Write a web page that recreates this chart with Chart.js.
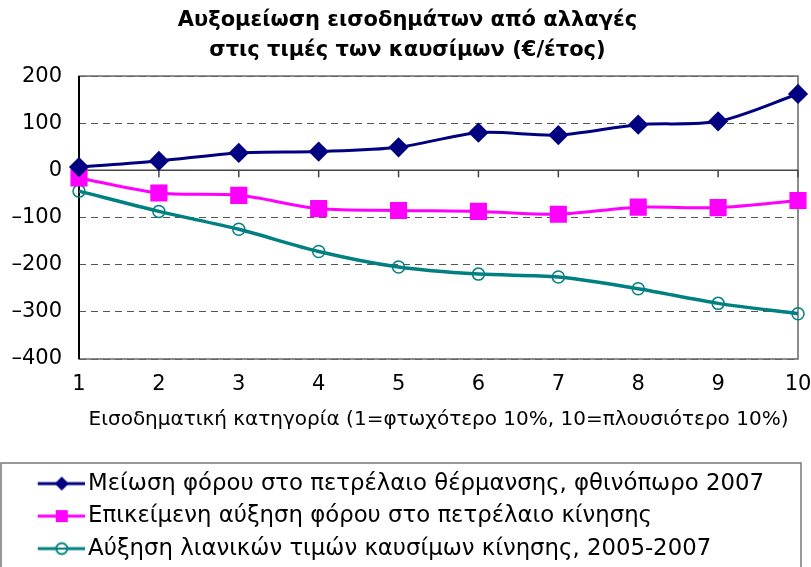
<!DOCTYPE html>
<html>
<head>
<meta charset="utf-8">
<title>Αυξομείωση εισοδημάτων</title>
<script src="https://cdn.jsdelivr.net/npm/chart.js@4.4.1/dist/chart.umd.min.js"></script>
<style>
  body{margin:0;background:#fff;}
  canvas{display:block;}
</style>
</head>
<body>
<canvas id="myChart" width="811" height="567"></canvas>
<script>
// data
var categories=['1','2','3','4','5','6','7','8','9','10'];
var heatingTax=[7,20,37,40,49,80,75,97,104,162];
var dieselTax=[-16,-48,-53,-81,-85,-87,-93,-78,-79,-64];
var retailPrices=[-44,-87,-125,-172,-205,-220,-226,-251,-282,-304];
var yTicks=[200,100,0,-100,-200,-300,-400];

var seriesNames=[
  'Μείωση φόρου στο πετρέλαιο θέρμανσης, φθινόπωρο 2007',
  'Επικείμενη αύξηση φόρου στο πετρέλαιο κίνησης',
  'Αύξηση λιανικών τιμών καυσίμων κίνησης, 2005-2007'
];

var sans="'DejaVu Sans',sans-serif";

// little line + marker pictures for the legend
function legendIcon(color,style){
  var c=document.createElement('canvas');
  c.width=76; c.height=20;
  var g=c.getContext('2d');
  g.strokeStyle=color; g.lineWidth=3;
  g.beginPath(); g.moveTo(29,10); g.lineTo(76,10); g.stroke();
  var mx=53, my=10;
  g.fillStyle=color;
  if(style==='diamond'){
    g.beginPath(); g.moveTo(mx,my-7); g.lineTo(mx+7,my); g.lineTo(mx,my+7); g.lineTo(mx-7,my); g.closePath(); g.fill();
  } else if(style==='square'){
    g.fillRect(mx-6,my-6,12,12);
  } else {
    g.fillStyle='#fff'; g.lineWidth=2;
    g.beginPath(); g.arc(mx,my,5.5,0,Math.PI*2); g.fill(); g.stroke();
    g.beginPath(); g.moveTo(mx-5,my); g.lineTo(mx+5,my); g.stroke();
  }
  return c;
}
var icons=[legendIcon('#000080','diamond'),legendIcon('#FF00FF','square'),legendIcon('#008080','circle')];

var framePlugin={
  id:'frame',
  beforeDatasetsDraw(chart){
    var ctx=chart.ctx, a=chart.chartArea, x=chart.scales.x, y=chart.scales.y;
    ctx.save();
    ctx.strokeStyle='#666'; ctx.lineWidth=1.5;
    ctx.strokeRect(a.left,a.top,a.right-a.left,a.bottom-a.top);
    ctx.strokeStyle='#000'; ctx.lineWidth=2;
    ctx.beginPath(); ctx.moveTo(a.left,a.top); ctx.lineTo(a.left,a.bottom); ctx.stroke();
    var y0=y.getPixelForValue(0);
    ctx.strokeStyle='#444'; ctx.lineWidth=1.5;
    ctx.beginPath(); ctx.moveTo(a.left,y0); ctx.lineTo(a.right,y0); ctx.stroke();
    categories.forEach((c,i)=>{
      var px=x.getPixelForValue(i);
      ctx.beginPath(); ctx.moveTo(px,y0); ctx.lineTo(px,y0+7); ctx.stroke();
    });
    ctx.restore();
  },
  afterDraw(chart){
    var l=chart.legend, ctx=chart.ctx;
    ctx.save();
    ctx.strokeStyle='#777'; ctx.lineWidth=1.5;
    ctx.strokeRect(1,l.top+0.5,l.right-8,l.bottom);
    ctx.restore();
  }
};

var ctx=document.getElementById('myChart').getContext('2d');
var chart=new Chart(ctx,{
  type:'line',
  data:{
    labels:categories,
    datasets:[
      {label:seriesNames[0],data:heatingTax,borderColor:'#000080',backgroundColor:'#000080',
       borderWidth:3,pointStyle:'rectRot',pointRadius:8,tension:0.3},
      {label:seriesNames[1],data:dieselTax,borderColor:'#FF00FF',backgroundColor:'#FF00FF',
       borderWidth:3,pointStyle:'rect',pointRadius:10,tension:0.3},
      {label:seriesNames[2],data:retailPrices,borderColor:'#008080',backgroundColor:'rgba(0,0,0,0)',
       borderWidth:3.5,pointStyle:'circle',pointRadius:6,pointBorderWidth:1.5,tension:0.3}
    ]
  },
  options:{
    responsive:false,
    animation:false,
    events:[],
    layout:{padding:{left:7,right:3,top:0,bottom:-3}},
    plugins:{
      title:{
        display:true,
        text:['Αυξομείωση εισοδημάτων από αλλαγές','στις τιμές των καυσίμων (€/έτος)'],
        color:'#000',
        font:{family:sans,size:21,weight:'bold',lineHeight:1.43},
        padding:{top:6,bottom:10}
      },
      legend:{
        position:'bottom',
        align:'start',
        labels:{
          color:'#000',
          font:{family:sans,size:22.8},
          usePointStyle:true,
          pointStyleWidth:60,
          padding:9.7,
          generateLabels(chart){
            return chart.data.datasets.map((ds,i)=>({
              text:ds.label,pointStyle:icons[i],datasetIndex:i,
              fillStyle:ds.borderColor,strokeStyle:ds.borderColor,lineWidth:0,hidden:false
            }));
          }
        }
      },
      tooltip:{enabled:false}
    },
    scales:{
      x:{
        offset:false,
        grid:{display:false,drawTicks:false},
        border:{display:false},
        ticks:{color:'#000',font:{family:sans,size:21,lineHeight:0.8},padding:17.6,maxRotation:0,autoSkip:false},
        title:{
          display:true,align:'center',
          text:'Εισοδηματική κατηγορία (1=φτωχότερο 10%, 10=πλουσιότερο 10%)',
          color:'#000',font:{family:sans,size:20,lineHeight:0.9},
          padding:{top:0,bottom:33.5}
        },
        afterFit(scale){
          scale.paddingLeft=5;
          scale.paddingRight=11;
        }
      },
      y:{
        min:-400,max:200,
        afterBuildTicks(scale){ scale.ticks=yTicks.map(v=>({value:v})); },
        grid:{color:'#555',drawTicks:false,lineWidth:1},
        border:{display:false,dash:[7,5]},
        ticks:{
          color:'#000',font:{family:sans,size:21},padding:17,
          callback:(v)=>v<0?'–'+Math.abs(v):String(v)
        },
        afterFit(scale){ scale.width=72; }
      }
    }
  },
  plugins:[framePlugin]
});
</script>
</body>
</html>
